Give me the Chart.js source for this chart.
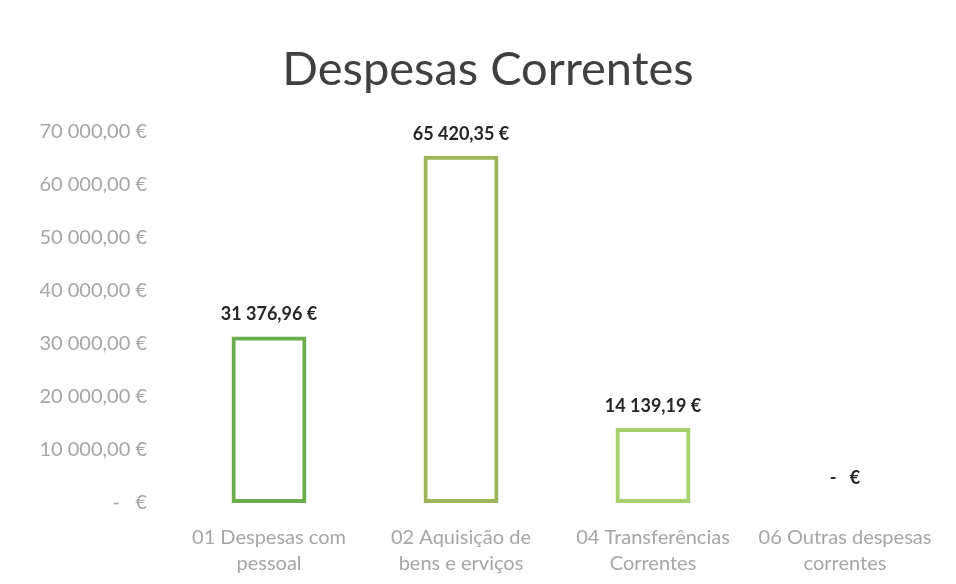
<!DOCTYPE html>
<html>
<head>
<meta charset="utf-8">
<script src="https://cdn.jsdelivr.net/npm/chart.js@4/dist/chart.umd.min.js"></script>
<style>
  html, body { margin: 0; padding: 0; background: #fff; }
  #wrap { width: 956px; height: 584px; }
</style>
</head>
<body>
<div id="wrap"><canvas id="chartCanvas"></canvas></div>
<script>
const categories = [
  ["01 Despesas com", "pessoal"],
  ["02 Aquisição de", "bens e erviços"],
  ["04 Transferências", "Correntes"],
  ["06 Outras despesas", "correntes"]
];
const values = [31376.96, 65420.35, 14139.19, 0];
const barColors = ["#6aae4c", "#9db65a", "#a6d16c", "#a6d16c"];
const yTicks = [0, 10000, 20000, 30000, 40000, 50000, 60000, 70000];

// formato contabilístico: 31 376,96 €
const fmt = (v) => {
  if (v === 0) return "-   €";
  const parts = v.toFixed(2).split(".");
  const int = parts[0].replace(/\B(?=(\d{3})+(?!\d))/g, " ");
  return int + "," + parts[1] + " €";
};

const dataLabels = {
  id: "dataLabels",
  afterDatasetsDraw(chart) {
    const c = chart.ctx;
    const meta = chart.getDatasetMeta(0);
    c.save();
    c.font = "bold 18px Lato, 'Open Sans', sans-serif";
    c.fillStyle = "#262626";
    c.textAlign = "center";
    c.textBaseline = "bottom";
    meta.data.forEach((bar, i) => {
      const v = values[i];
      const y = v === 0 ? bar.y - 16 : bar.y - 13;
      c.fillText(fmt(v), bar.x, y);
    });
    c.restore();
  }
};

const ctx = document.getElementById("chartCanvas").getContext("2d");
new Chart(ctx, {
  type: "bar",
  data: {
    labels: categories,
    datasets: [{
      data: values,
      backgroundColor: "rgba(0,0,0,0)",
      borderColor: barColors,
      borderWidth: 4,
      borderSkipped: false,
      barPercentage: 0.39,
      categoryPercentage: 1
    }]
  },
  options: {
    responsive: true,
    maintainAspectRatio: false,
    animation: false,
    layout: { padding: { top: 0, right: 15, bottom: 0, left: 35 } },
    scales: {
      x: {
        grid: { display: false, drawTicks: false },
        border: { display: false },
        ticks: {
          color: "#a6a6a6",
          font: { family: "Lato, 'Open Sans', sans-serif", size: 20, lineHeight: 1.3 },
          padding: 22,
          maxRotation: 0
        },
        afterFit: (s) => { s.height = 81; }
      },
      y: {
        min: 0,
        max: 70000,
        grid: { display: false, drawTicks: false },
        border: { display: false },
        afterBuildTicks: (s) => { s.ticks = yTicks.map(v => ({ value: v })); },
        ticks: {
          color: "#a6a6a6",
          font: { family: "Lato, 'Open Sans', sans-serif", size: 20 },
          padding: 26,
          callback: (v) => fmt(v)
        },
        afterFit: (s) => { s.width = 138; }
      }
    },
    plugins: {
      legend: { display: false },
      tooltip: { enabled: false },
      title: {
        display: true,
        text: "Despesas Correntes",
        color: "#404040",
        font: { family: "Lato, 'Open Sans', sans-serif", size: 47, weight: "normal" },
        padding: { top: 42, bottom: 33 }
      }
    }
  },
  plugins: [dataLabels]
});
</script>
</body>
</html>
